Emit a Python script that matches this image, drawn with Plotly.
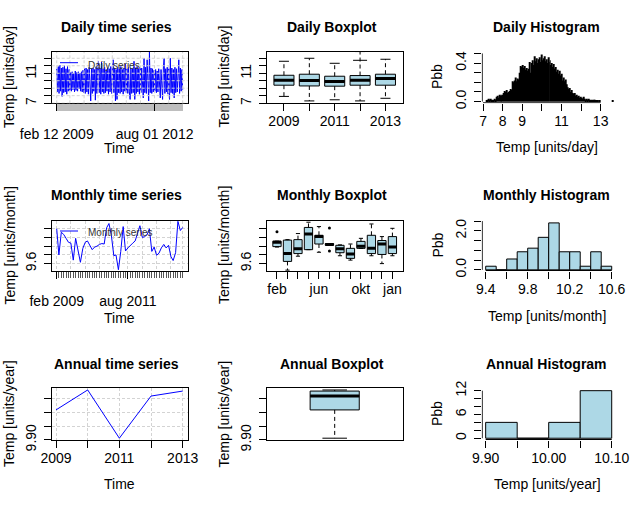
import plotly.graph_objects as go
import pandas as pd

W, H = 643, 505
FONT = "Liberation Sans, Arial, sans-serif"

# ---------------- data ----------------
daily_start = "2009-02-12"          # one value every 10 days (estimated envelope of the daily series)
daily_values = [
    11.6, 8.5, 11.9, 8.3, 12.1, 8.6, 11.7, 7.9, 11.8, 8.4,
    12.0, 8.5, 11.6, 8.2, 11.9, 8.6, 11.5, 8.7, 11.1, 8.6,
    11.2, 8.8, 11.0, 8.5, 11.3, 8.7, 11.1, 8.6, 11.2, 8.9,
    11.0, 8.6, 11.2, 8.5, 11.4, 8.4, 11.6, 8.3, 11.7, 8.5,
    11.5, 8.2, 11.8, 8.4, 7.3, 11.6, 8.3, 11.7, 8.6, 11.5,
    7.4, 11.8, 8.3, 11.6, 12.6, 8.4, 11.7, 8.2, 12.5, 8.5,
    11.6, 8.3, 11.8, 8.4, 11.5, 8.6, 11.7, 8.2, 11.6, 8.5,
    11.9, 8.3, 11.6, 12.8, 8.4, 11.7, 7.3, 11.5, 7.5, 11.8,
    8.4, 11.6, 8.3, 11.9, 8.5, 11.5, 8.2, 11.7, 8.6, 12.2,
    8.4, 11.6, 8.3, 11.8, 8.5, 7.5, 11.7, 8.3, 11.6, 8.4,
    12.6, 7.5, 11.7, 8.3, 11.9, 8.5, 11.6, 8.2, 11.8, 8.4,
    11.7, 8.3, 7.7, 13.0, 8.4, 11.8, 8.3, 12.8, 8.5, 7.3,
    13.9, 8.4, 11.7, 8.3, 11.6, 8.5, 11.4, 8.6, 11.5, 8.4,
    11.3, 8.5, 11.6, 8.3, 7.7, 11.5, 8.4, 7.5, 11.7, 13.0,
    8.3, 11.6, 8.5, 11.8, 8.2, 11.6, 7.5, 13.0, 8.4, 11.7,
    8.3, 11.5, 7.7, 11.8, 8.4, 11.6, 8.5, 11.9, 12.8, 8.3,
    11.7, 8.6, 11.5, 8.8,
]
daily_tick_dates = ["2009-02-12", "2009-08-01", "2010-02-01", "2010-08-01", "2011-02-01",
                    "2011-08-01", "2012-02-01", "2012-08-01", "2013-02-01", "2013-07-31"]
daily_tick_text = ["feb 12 2009", "", "", "", "", "", "", "aug 01 2012", "", ""]

monthly_start = "2009-02-01"
monthly_values = [
    10.40, 9.80, 10.32, 10.27, 10.18, 10.09, 10.07, 9.68, 10.18, 9.85,
    9.63, 9.95, 10.09, 10.12, 10.00, 9.92, 9.98, 10.00, 10.04, 10.06,
    10.05, 10.42, 10.52, 10.25, 9.78, 9.80, 9.46, 9.88, 10.45, 9.89,
    9.96, 10.03, 10.07, 10.12, 10.28, 10.47, 10.20, 10.22, 10.26, 10.40,
    9.88, 9.98, 9.79, 9.84, 9.96, 10.04, 9.96, 10.02, 9.76, 9.67,
    9.85, 10.57, 10.36, 10.43,
]
monthly_tick_dates = ["2009-02-01", "2009-08-01", "2010-02-01", "2010-08-01", "2011-02-01",
                      "2011-08-01", "2012-02-01", "2012-08-01", "2013-02-01", "2013-07-01"]
monthly_tick_text = ["feb 2009", "", "", "", "", "aug 2011", "", "", "", ""]

annual_years = [2009, 2010, 2011, 2012, 2013]
annual_values = [10.008, 10.080, 9.906, 10.058, 10.076]

# daily boxplot (by year)
dbox_labels = ["2009", "", "2011", "", "2013"]
dbox_lo = [7.9, 7.3, 7.45, 7.3, 7.65]
dbox_q1 = [9.4, 9.3, 9.27, 9.4, 9.4]
dbox_med = [10.07, 10.02, 9.89, 10.07, 10.29]
dbox_q3 = [10.73, 10.87, 10.6, 10.69, 10.87]
dbox_hi = [12.6, 13.0, 12.33, 13.9, 12.87]
dbox_mark_pos = [4]
dbox_mark_val = [12.73]

# monthly boxplot (by month)
mbox_labels = ["feb", "", "", "", "jun", "", "", "", "okt", "", "", "jan"]
mbox_lo = [9.98, 9.45, 9.77, 9.92, 9.86, 10.02, 9.78, 9.68, 9.95, 9.78, 9.60, 9.78]
mbox_q1 = [9.99, 9.65, 9.83, 9.92, 10.05, 10.02, 9.85, 9.72, 9.95, 9.83, 9.81, 9.83]
mbox_med = [10.09, 9.83, 9.94, 10.28, 10.22, 10.04, 9.94, 9.82, 10.00, 9.95, 10.05, 9.98]
mbox_q3 = [10.115, 10.14, 10.15, 10.43, 10.25, 10.06, 10.02, 9.95, 10.11, 10.25, 10.13, 10.22]
mbox_hi = [10.115, 10.15, 10.29, 10.55, 10.45, 10.06, 10.03, 10.05, 10.18, 10.51, 10.22, 10.41]
mbox_out_pos = [1, 6, 6]
mbox_out_val = [10.33, 10.42, 9.89]

# histograms
dhist_start, dhist_bin = 7.15, 0.05
dhist_density = [
    0.01, 0.02, 0.03, 0.02, 0.03, 0.01, 0.02,
    0.01, 0.03, 0.02, 0.05, 0.06, 0.04,
    0.07, 0.06, 0.07, 0.06, 0.07, 0.09,
    0.11, 0.10, 0.12, 0.09, 0.10, 0.11,
    0.13, 0.12, 0.21, 0.20,
    0.22, 0.25, 0.21, 0.24, 0.23, 0.30,
    0.37, 0.36, 0.38, 0.35, 0.37, 0.33,
    0.35, 0.32, 0.34, 0.41, 0.30, 0.40,
    0.43, 0.38, 0.47, 0.42, 0.45, 0.40,
    0.44, 0.46, 0.41, 0.49, 0.43, 0.45,
    0.47, 0.42, 0.44, 0.40, 0.46, 0.41,
    0.43, 0.38, 0.40, 0.36, 0.39, 0.34,
    0.36, 0.31, 0.33, 0.29, 0.32, 0.27,
    0.29, 0.22, 0.25, 0.21, 0.23, 0.18,
    0.15, 0.13, 0.14, 0.10, 0.12, 0.09,
    0.08, 0.09, 0.06, 0.07, 0.05, 0.06,
    0.04, 0.05, 0.04, 0.03, 0.05, 0.03,
    0.02, 0.03, 0.02, 0.03, 0.02, 0.01,
    0.02, 0.01, 0.02, 0.02, 0.01, 0.01,
    0.01, 0.01, 0.00, 0.01, 0.00, 0.00,
    0.00, 0.00, 0.00, 0.00, 0.00, 0.00,
    0.00, 0.00, 0.00, 0.00, 0.01,
]
mhist_start, mhist_bin = 9.4, 0.1
mhist_counts = [1, 0, 3, 5, 6, 9, 13, 5, 5, 1, 5, 1]
ahist_start, ahist_bin = 9.90, 0.05
ahist_counts = [1, 0, 1, 3]

# ---------------- layout geometry (window pixels) ----------------
col_x = [(51.7, 187.7), (266.7, 402.7), (481.7, 617.7)]
row_y = [(52.0, 103.3), (220.7, 271.0), (388.3, 440.0)]


def px_x(px):
    return px / W


def px_y(py):
    return 1 - py / H


def xdom(c):
    return [px_x(col_x[c][0]), px_x(col_x[c][1])]


def ydom(r):
    return [px_y(row_y[r][1]), px_y(row_y[r][0])]


fig = go.Figure()
layout = dict(width=W, height=H, margin=dict(l=0, r=0, t=0, b=0, autoexpand=False), autosize=False,
              paper_bgcolor="white", plot_bgcolor="white", showlegend=False,
              hovermode=False, font=dict(family=FONT, size=14, color="black"))
shapes, annotations = [], []

GRID = "#d3d3d3"
DOT = "3px,2px"


def axname(n, a):
    return a if n == 1 else f"{a}{n}"


def set_axes(n, xr, yr, xt, xtt, yt, ytt, boxed=True, xtype="linear",
             xstand=-2, ystand=2, xgrid=False, ygrid=False, xminor=None, showxticks=True):
    r, c = (n - 1) // 3, (n - 1) % 3
    xa = dict(domain=xdom(c), anchor=axname(n, "y"), range=xr, type=xtype, automargin=False,
              tickmode="array", tickvals=xt, ticktext=xtt,
              ticks="outside" if showxticks else "", ticklen=7, tickwidth=1, tickcolor="black",
              showline=boxed, mirror=boxed, linecolor="black", linewidth=1,
              zeroline=False, showgrid=xgrid, gridcolor=GRID, griddash=DOT, gridwidth=1,
              ticklabelstandoff=xstand, tickfont=dict(size=14, family=FONT, color="black"),
              fixedrange=True)
    if xminor:
        xa["minor"] = xminor
    ya = dict(domain=ydom(r), anchor=axname(n, "x"), range=yr, automargin=False,
              tickmode="array", tickvals=yt, ticktext=ytt, tickangle=-90,
              ticks="outside", ticklen=7, tickwidth=1, tickcolor="black",
              showline=boxed, mirror=boxed, linecolor="black", linewidth=1,
              zeroline=False, showgrid=ygrid, gridcolor=GRID, griddash=DOT, gridwidth=1,
              ticklabelstandoff=ystand, tickfont=dict(size=14, family=FONT, color="black"),
              fixedrange=True)
    layout["xaxis" if n == 1 else f"xaxis{n}"] = xa
    layout["yaxis" if n == 1 else f"yaxis{n}"] = ya


def tr(n, trace):
    trace.update(xaxis=axname(n, "x"), yaxis=axname(n, "y"), hoverinfo="skip")
    fig.add_trace(trace)


def add_boxes(n, pos, lo, q1, med, q3, hi, w):
    tr(n, go.Box(x=pos, q1=q1, median=med, q3=q3, lowerfence=q1, upperfence=q3,
                 width=w, fillcolor="lightblue", line=dict(color="black", width=1),
                 boxpoints=False, whiskerwidth=0))
    wx, wy, cx, cy, mx, my = [], [], [], [], [], []
    for p, a, b, m, d, e in zip(pos, lo, q1, med, q3, hi):
        if e > d:
            wx += [p, p, None]; wy += [d, e, None]
        if a < b:
            wx += [p, p, None]; wy += [b, a, None]
        cx += [p - w / 4, p + w / 4, None, p - w / 4, p + w / 4, None]
        cy += [e, e, None, a, a, None]
        mx += [p - w / 2, p + w / 2, None]; my += [m, m, None]
    tr(n, go.Scatter(x=wx, y=wy, mode="lines", line=dict(color="black", width=1, dash="4px,3px")))
    tr(n, go.Scatter(x=cx, y=cy, mode="lines", line=dict(color="black", width=1)))
    tr(n, go.Scatter(x=mx, y=my, mode="lines", line=dict(color="black", width=3)))


def hist_axis_lines(n, xr, yr, xt, yt):
    r = (n - 1) // 3
    hpx = row_y[r][1] - row_y[r][0]
    ey = (yr[1] - yr[0]) / hpx * 0.5
    ex = (xr[1] - xr[0]) / 136 * 0.5
    tr(n, go.Scatter(x=[xt[0], xt[-1]], y=[yr[0] + ey] * 2, mode="lines",
                     line=dict(color="black", width=1)))
    tr(n, go.Scatter(x=[xr[0] + ex] * 2, y=[yt[0], yt[-1]], mode="lines",
                     line=dict(color="black", width=1)))


def ann(text, xp, yp, size=14, bold=False, angle=0, xanchor="center", color="black"):
    annotations.append(dict(text=f"<b>{text}</b>" if bold else text, x=px_x(xp), y=px_y(yp),
                            xref="paper", yref="paper", showarrow=False, textangle=angle,
                            xanchor=xanchor, yanchor="middle",
                            font=dict(size=size, family=FONT, color=color)))


# ---------------- 1: daily time series ----------------
daily_dates = pd.date_range(daily_start, periods=len(daily_values), freq="10D")
minor_days = [d.strftime("%Y-%m-%d") for d in pd.date_range(daily_dates[0], daily_dates[-1], freq="D")]
tr(1, go.Scatter(x=daily_dates, y=daily_values, mode="lines", line=dict(color="blue", width=1)))
d_yt = [7, 8, 9, 10, 11, 12, 13]
d_ytt = ["7", "", "", "", "11", "", ""]
set_axes(1, ["2008-12-09", "2013-10-04"], [6.98, 13.84], daily_tick_dates, daily_tick_text,
         d_yt, d_ytt, xtype="date", xstand=11,
         xminor=dict(tickmode="array", tickvals=minor_days, ticks="outside", ticklen=7,
                     tickcolor="#bebebe", tickwidth=1))
for t in daily_tick_dates:
    shapes.append(dict(type="line", xref="x", yref="y domain", x0=t, x1=t, y0=0, y1=1,
                       layer="above", line=dict(color=GRID, width=1, dash=DOT)))
for v in d_yt:
    shapes.append(dict(type="line", xref="x domain", yref="y", x0=0, x1=1, y0=v, y1=v,
                       layer="above", line=dict(color=GRID, width=1, dash=DOT)))

# ---------------- 2: daily boxplot ----------------
dpos = list(range(1, len(dbox_med) + 1))
add_boxes(2, dpos, dbox_lo, dbox_q1, dbox_med, dbox_q3, dbox_hi, 0.79)
tr(2, go.Scatter(x=dbox_mark_pos, y=dbox_mark_val, mode="markers",
                 marker=dict(symbol="line-ew", size=10, line=dict(color="black", width=1))))
set_axes(2, [0.32, 5.68], [6.98, 13.84], dpos, dbox_labels, d_yt, d_ytt)

# ---------------- 3: daily histogram ----------------
d_centers = [dhist_start + dhist_bin * (i + 0.5) for i in range(len(dhist_density))]
tr(3, go.Bar(x=d_centers, y=dhist_density, width=dhist_bin,
             marker=dict(color="black", line=dict(width=0))))
h3x, h3y = [6.93, 13.87], [-0.018, 0.515]
h3xt = [7, 8, 9, 10, 11, 12, 13]
h3yt = [0, 0.1, 0.2, 0.3, 0.4, 0.5]
set_axes(3, h3x, h3y, h3xt, ["7", "8", "9", "", "11", "", "13"],
         h3yt, ["0.0", "", "", "", "0.4", ""], boxed=False)
hist_axis_lines(3, h3x, h3y, h3xt, h3yt)

# ---------------- 4: monthly time series ----------------
monthly_dates = pd.date_range(monthly_start, periods=len(monthly_values), freq="MS")
tr(4, go.Scatter(x=monthly_dates, y=monthly_values, mode="lines", line=dict(color="blue", width=1)))
m_yt = [9.6, 9.8, 10.0, 10.2, 10.4]
m_ytt = ["9.6", "", "", "", ""]
set_axes(4, ["2008-11-29", "2013-09-03"], [9.43, 10.585], monthly_tick_dates, monthly_tick_text,
         m_yt, m_ytt, xtype="date", xstand=10, xgrid=True, ygrid=True,
         xminor=dict(tickmode="array", tickvals=[d.strftime("%Y-%m-%d") for d in monthly_dates],
                     ticks="outside", ticklen=6, tickcolor="#555555", tickwidth=1, showgrid=False))

# ---------------- 5: monthly boxplot ----------------
mpos = list(range(1, len(mbox_med) + 1))
add_boxes(5, mpos, mbox_lo, mbox_q1, mbox_med, mbox_q3, mbox_hi, 0.79)
tr(5, go.Scatter(x=mbox_out_pos, y=mbox_out_val, mode="markers",
                 marker=dict(color="black", size=3, symbol="circle")))
set_axes(5, [0.02, 12.98], [9.43, 10.585], mpos, mbox_labels, m_yt, m_ytt)

# ---------------- 6: monthly histogram ----------------
n_months = sum(mhist_counts)
m_centers = [mhist_start + mhist_bin * (i + 0.5) for i in range(len(mhist_counts))]
m_dens = [c / (n_months * mhist_bin) for c in mhist_counts]
tr(6, go.Bar(x=m_centers, y=m_dens, width=mhist_bin,
             marker=dict(color="lightblue", line=dict(color="black", width=1))))
h6x, h6y = [9.362, 10.657], [-0.06, 2.52]
h6xt = [9.4, 9.6, 9.8, 10.0, 10.2, 10.4, 10.6]
h6yt = [0, 0.5, 1.0, 1.5, 2.0, 2.5]
set_axes(6, h6x, h6y, h6xt, ["9.4", "", "9.8", "", "10.2", "", "10.6"],
         h6yt, ["0.0", "", "", "", "2.0", ""], boxed=False)
hist_axis_lines(6, h6x, h6y, h6xt, h6yt)

# ---------------- 7: annual time series ----------------
tr(7, go.Scatter(x=annual_years, y=annual_values, mode="lines", line=dict(color="blue", width=1)))
a_yt = [9.90, 9.95, 10.00, 10.05]
a_ytt = ["9.90", "", "", ""]
set_axes(7, [2008.864, 2013.158], [9.8995, 10.086], annual_years,
         ["2009", "", "2011", "", "2013"], a_yt, a_ytt, xgrid=True, ygrid=True)

# ---------------- 8: annual boxplot ----------------
fv = sorted(annual_values)
add_boxes(8, [1], [fv[0]], [fv[1]], [fv[2]], [fv[3]], [fv[4]], 0.39)
set_axes(8, [0.46, 1.54], [9.8995, 10.086], [], [], a_yt, a_ytt, showxticks=False)

# ---------------- 9: annual histogram ----------------
n_years = sum(ahist_counts)
a_centers = [ahist_start + ahist_bin * (i + 0.5) for i in range(len(ahist_counts))]
a_dens = [c / (n_years * ahist_bin) for c in ahist_counts]
tr(9, go.Bar(x=a_centers, y=a_dens, width=ahist_bin,
             marker=dict(color="lightblue", line=dict(color="black", width=1))))
h9x, h9y = [9.8937, 10.1095], [-0.45, 12.6]
h9xt = [9.90, 9.95, 10.00, 10.05, 10.10]
h9yt = [0, 2, 4, 6, 8, 10, 12]
set_axes(9, h9x, h9y, h9xt, ["9.90", "", "10.00", "", "10.10"],
         h9yt, ["0", "", "", "6", "", "", "12"], boxed=False)
hist_axis_lines(9, h9x, h9y, h9xt, h9yt)

# ---------------- titles, axis titles, legends ----------------
titles = [["Daily time series", "Daily Boxplot", "Daily Histogram"],
          ["Monthly time series", "Monthly Boxplot", "Monthly Histogram"],
          ["Annual time series", "Annual Boxplot", "Annual Histogram"]]
title_x = [116.5, 331.5, 546.5]
title_y = [27, 195, 364]
units = ["Temp [units/day]", "Temp [units/month]", "Temp [units/year]"]
ylab_x = [9.0, 223.5, 437.0]
ylab_y = [77, 245.5, 414]
xlab_y = [148, 318, 484]
for r in range(3):
    for c in range(3):
        ann(titles[r][c], title_x[c], title_y[r], size=14, bold=True)
    ann(units[r], ylab_x[0], ylab_y[r], angle=-90)
    ann(units[r], ylab_x[1], ylab_y[r], angle=-90)
    ann("Pbb", ylab_x[2], ylab_y[r], angle=-90)
    ann("Time", 119, xlab_y[r])
    ann(units[r], 547.3, [146.7, 316, 484][r])

legend_items = [("Daily series", 62.7, 65.0), ("Monthly series", 231.0, 232.7)]
for txt, ly, ty in legend_items:
    shapes.append(dict(type="line", xref="paper", yref="paper", x0=px_x(60), x1=px_x(78),
                       y0=px_y(ly), y1=px_y(ly), line=dict(color="blue", width=1)))
    ann(txt, 86, ty, size=10, xanchor="left", color="#333333")

layout["shapes"] = shapes
layout["annotations"] = annotations
fig.update_layout(**layout)
# the page's default 8px body margin would shift and clip the figure; remove it
fig.write_html("out.html", config={"displayModeBar": False},
               post_script="document.body.style.margin='0px';")
